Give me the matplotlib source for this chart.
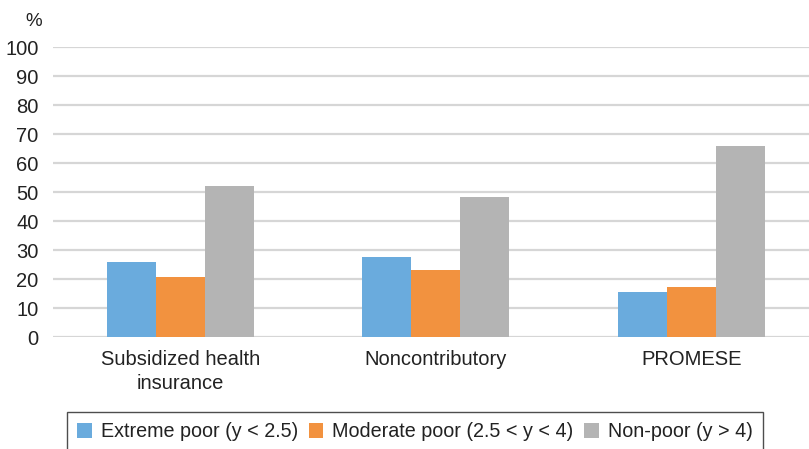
"""Grouped bar chart: share of beneficiaries by poverty status per programme."""
import matplotlib
matplotlib.use("Agg")
import matplotlib.pyplot as plt
import numpy as np

categories = ["Subsidized health\ninsurance", "Noncontributory", "PROMESE"]
series_names = [
    "Extreme poor (y < 2.5)",
    "Moderate poor (2.5 < y < 4)",
    "Non-poor (y > 4)",
]
extreme_poor = [26.0, 27.6, 15.7]
moderate_poor = [20.9, 23.2, 17.3]
non_poor = [52.3, 48.4, 65.9]
y_ticks = list(range(0, 101, 10))

colors = ["#6aabdd", "#f2923f", "#b4b4b4"]
FS = 14.5

plt.rcParams["font.family"] = ["Liberation Sans", "DejaVu Sans"]

W, H = 809, 449
fig = plt.figure(figsize=(W / 100, H / 100), dpi=100)

# axes placed in pixel terms: x from 52.5 to the right edge, y=0 at 337.3, y=100 at 47.3
left, right = 52.5, 809
y0, y100 = 337.3, 47.3
ax = fig.add_axes([left / W, 1 - y0 / H, (right - left) / W, (y0 - y100) / H])

step = 255.5  # pixels per category
x = np.arange(len(categories))
width = 49 / step
for i, (vals, name) in enumerate(zip([extreme_poor, moderate_poor, non_poor], series_names)):
    ax.bar(x + (i - 1) * width, vals, width, color=colors[i], label=name, zorder=3)

ax.set_xlim(-0.5, -0.5 + (right - left) / step)
ax.set_ylim(0, 100)
ax.set_yticks(y_ticks)
ax.set_xticks(x)
ax.set_xticklabels(categories, fontsize=FS, color="#222222", linespacing=1.35)
ax.tick_params(axis="both", length=0, labelsize=FS, colors="#222222")
ax.tick_params(axis="y", pad=10)
ax.tick_params(axis="x", pad=9)
for s in ax.spines.values():
    s.set_visible(False)
ax.grid(axis="y", color="#d6d6d6", linewidth=1.6, zorder=0)
ax.set_axisbelow(True)

fig.text(34 / W, 1 - 21 / H, "%", fontsize=FS - 1, ha="center", va="center", color="#222222")

leg = fig.legend(
    loc="upper left",
    bbox_to_anchor=(67 / W, 1 - 412.3 / H),
    ncol=3,
    fontsize=14.2,
    frameon=True,
    fancybox=False,
    edgecolor="#222222",
    handlelength=0.75,
    handleheight=0.75,
    handletextpad=0.45,
    columnspacing=0.55,
    borderpad=0.5,
    borderaxespad=0,
)
leg.get_frame().set_linewidth(1.0)
for t in leg.get_texts():
    t.set_color("#222222")

fig.savefig("out.png", dpi=100)
